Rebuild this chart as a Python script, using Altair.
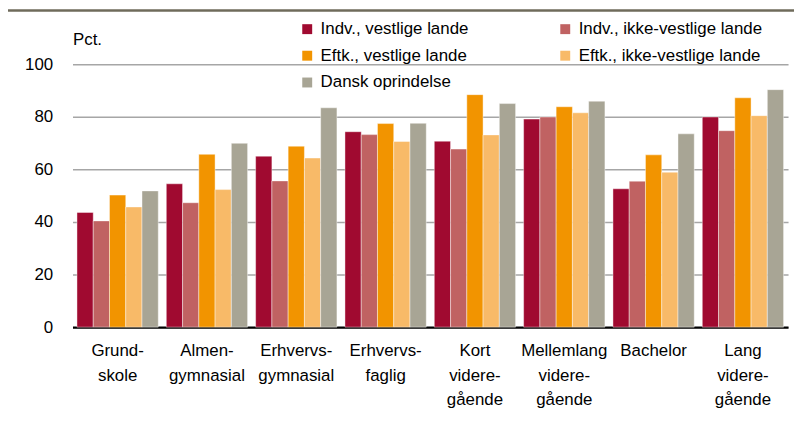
import altair as alt
import pandas as pd

categories = ["Grund-|skole", "Almen-|gymnasial", "Erhvervs-|gymnasial", "Erhvervs-|faglig",
              "Kort|videre-|gående", "Mellemlang|videre-|gående", "Bachelor", "Lang|videre-|gående"]
series = ["Indv., vestlige lande", "Indv., ikke-vestlige lande", "Eftk., vestlige lande",
          "Eftk., ikke-vestlige lande", "Dansk oprindelse"]
colors = ["#A00A30", "#C06262", "#F29400", "#F8BA68", "#A8A595"]

indv_vest = [43.6, 54.5, 65.0, 74.3, 70.7, 79.1, 52.6, 79.9]
indv_ikke = [40.4, 47.3, 55.6, 73.2, 67.7, 79.9, 55.5, 74.7]
eftk_vest = [50.2, 65.7, 68.8, 77.4, 88.4, 83.8, 65.5, 87.2]
eftk_ikke = [45.7, 52.3, 64.3, 70.6, 73.1, 81.5, 58.9, 80.4]
dansk = [51.8, 69.9, 83.4, 77.5, 85.0, 85.9, 73.5, 90.3]

values = [indv_vest, indv_ikke, eftk_vest, eftk_ikke, dansk]
rows = []
for s, vals in zip(series, values):
    for c, v in zip(categories, vals):
        rows.append({"kategori": c, "serie": s, "pct": v})
df = pd.DataFrame(rows)

FONT = "Liberation Sans"
FS = 17

bars = alt.Chart(df).mark_bar(stroke="#ffffff", strokeWidth=0.6, strokeOpacity=0.7).encode(
    x=alt.X("kategori:N", sort=categories,
            scale=alt.Scale(paddingInner=0.09, paddingOuter=0.05),
            axis=alt.Axis(title=None, labelAngle=0, labelExpr="split(datum.label, '|')",
                          labelFontSize=FS, labelFont=FONT, labelColor="#000000",
                          labelLineHeight=24.5, labelPadding=16, labelBaseline="top",
                          ticks=False, domainColor="#000000", domainWidth=2.5,
                          grid=False)),
    xOffset=alt.XOffset("serie:N", sort=series, scale=alt.Scale(paddingInner=0, paddingOuter=0)),
    y=alt.Y("pct:Q", scale=alt.Scale(domain=[0, 100], nice=False),
            axis=alt.Axis(title="Pct.", titleAngle=0, titleX=0, titleY=-25,
                          titleAlign="left", titleBaseline="middle",
                          titleFontSize=FS, titleFont=FONT, titleFontWeight="normal",
                          titleColor="#000000",
                          values=[0, 20, 40, 60, 80, 100],
                          labelFontSize=FS, labelFont=FONT, labelColor="#000000",
                          labelPadding=20, ticks=False, domain=False,
                          gridColor="#A6A6A6", gridWidth=1.5)),
    color=alt.Color("serie:N", sort=series,
                    scale=alt.Scale(domain=series, range=colors),
                    legend=alt.Legend(title=None, orient="none", legendX=228, legendY=-44,
                                      direction="horizontal",
                                      columns=2, columnPadding=89, rowPadding=9,
                                      symbolType="square", symbolSize=100,
                                      symbolStrokeWidth=0, symbolOffset=0,
                                      labelFontSize=FS, labelFont=FONT, labelColor="#000000",
                                      labelOffset=5, labelLimit=300)),
)

top_line = alt.Chart(pd.DataFrame({"v": [0]})).mark_rule(color="#6F6B5B", strokeWidth=2.5).encode(
    x=alt.value(-65), x2=alt.value(727), y=alt.value(-54)
)

chart = alt.layer(bars, top_line).properties(
    width=721, height=265,
    autosize=alt.AutoSizeParams(type="none"),
    padding={"left": 65, "top": 55, "right": 6, "bottom": 90},
).configure_view(stroke=None)

chart.save("out.html", embed_options={"renderer": "svg", "actions": False})
